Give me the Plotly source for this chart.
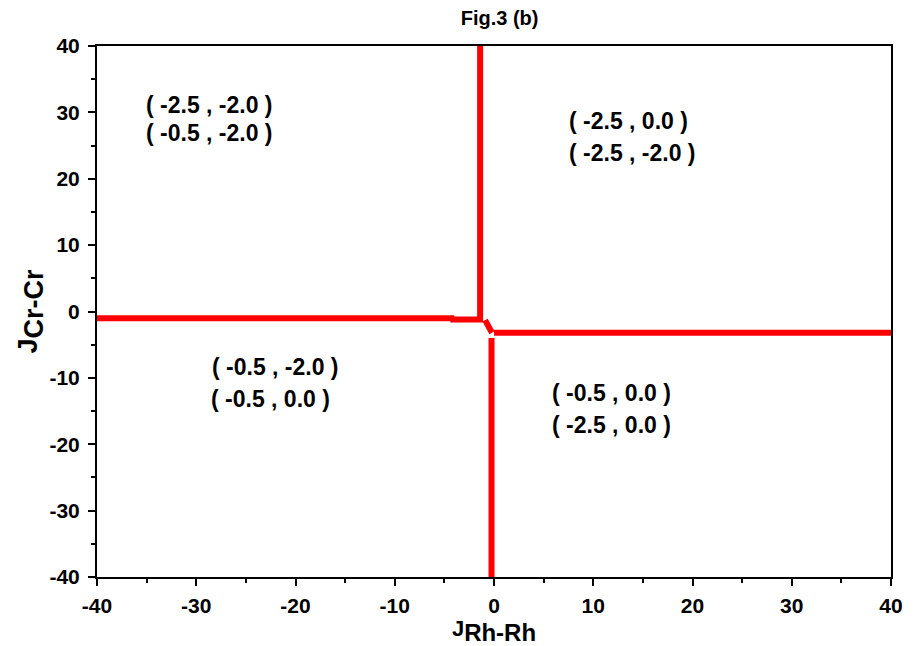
import plotly.graph_objects as go

# Phase-boundary segments (J_Rh-Rh, J_Cr-Cr)
left_x = [-40, -4.0]
left_y = [-1.0, -1.0]
upper_x = [-4.4, -1.4, -1.4]
upper_y = [-1.2, -1.2, 40]
diag_x = [-0.9, -0.2]
diag_y = [-1.3, -3.2]
right_x = [0.0, 40]
right_y = [-3.2, -3.2]
lower_x = [-0.25, -0.25]
lower_y = [-4.0, -40]

# Region labels
label_x = [-28.7, -28.7, 13.6, 14.0, -22.0, -22.5, 11.8, 11.8]
label_y = [31.1, 26.9, 28.7, 23.9, -8.4, -13.2, -12.3, -17.1]
label_text = ["( -2.5 , -2.0 )", "( -0.5 , -2.0 )",
              "( -2.5 , 0.0 )", "( -2.5 , -2.0 )",
              "( -0.5 , -2.0 )", "( -0.5 , 0.0 )",
              "( -0.5 , 0.0 )", "( -2.5 , 0.0 )"]

tick_vals = [-40, -30, -20, -10, 0, 10, 20, 30, 40]
tick_text = ["-40", "-30", "-20", "-10", "0", "10", "20", "30", "40"]

font_family = "Arial, Liberation Sans, sans-serif"
red = "#ff0000"

fig = go.Figure()
for xs, ys in [(left_x, left_y), (upper_x, upper_y), (diag_x, diag_y),
               (right_x, right_y), (lower_x, lower_y)]:
    fig.add_trace(go.Scatter(x=xs, y=ys, mode="lines",
                             line=dict(color=red, width=6),
                             showlegend=False, hoverinfo="skip"))

for tx, ty, tt in zip(label_x, label_y, label_text):
    fig.add_annotation(x=tx, y=ty, text="<b>" + tt + "</b>", showarrow=False,
                       font=dict(family=font_family, size=23, color="black"))

axis_common = dict(
    tickmode="array", tickvals=tick_vals, ticktext=tick_text,
    range=[-40, 40], showgrid=False, zeroline=False,
    showline=True, linecolor="black", linewidth=2, mirror=True,
    ticks="outside", ticklen=7, tickwidth=1.5, tickcolor="black",
    tickfont=dict(family=font_family, size=21, color="black", weight="bold"),
    minor=dict(dtick=5, ticks="outside", ticklen=4, tickwidth=1.5, tickcolor="black"),
)

fig.update_layout(
    width=915, height=646,
    margin=dict(l=97, r=18, t=46, b=69),
    paper_bgcolor="white", plot_bgcolor="white",
    title=dict(text="<b>Fig.3 (b)</b>", x=0.546, xanchor="center",
               y=0.972, yanchor="middle",
               font=dict(family=font_family, size=20, color="black")),
    xaxis=dict(axis_common, ticklabelstandoff=2,
               title=dict(text="<b>J<sub><span style='font-size:24px'>Rh-Rh</span></sub></b>",
                          standoff=0,
                          font=dict(family=font_family, size=22, color="black"))),
    yaxis=dict(axis_common, ticklabelstandoff=4,
               title=dict(text="<b>J<sub><span style='font-size:27px'>Cr-Cr</span></sub></b>",
                          standoff=4,
                          font=dict(family=font_family, size=27, color="black"))),
)

fig.write_html("out.html")
